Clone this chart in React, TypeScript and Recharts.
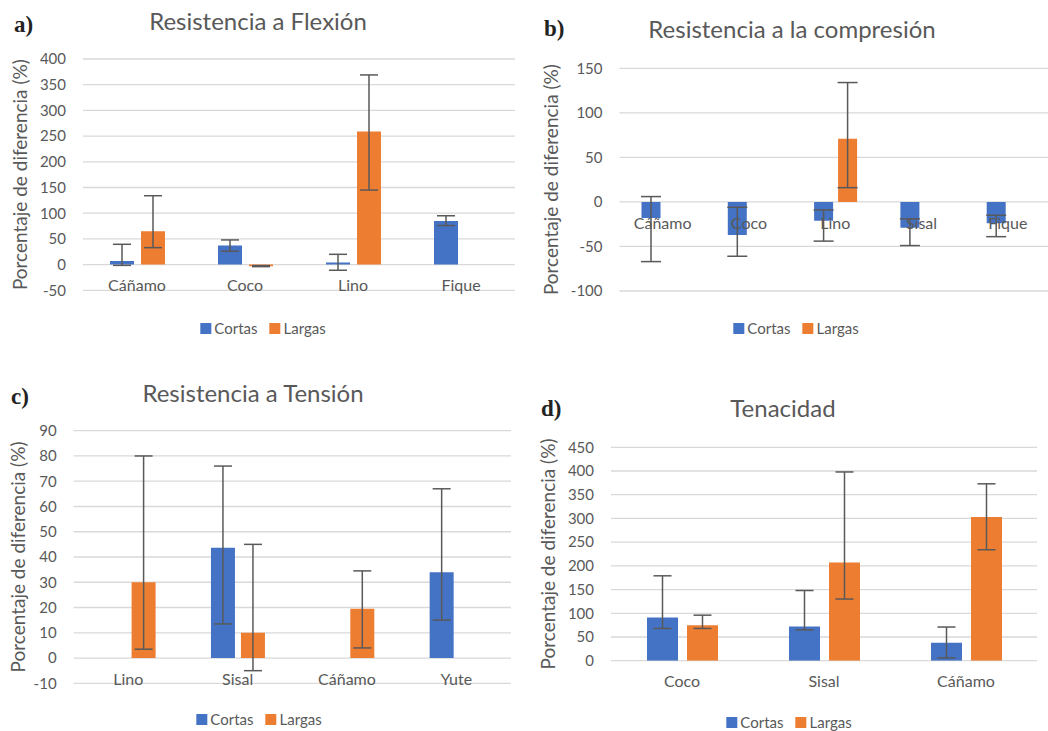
import React from 'react'
import { Bar, BarChart, CartesianGrid, ErrorBar, XAxis, YAxis } from 'recharts'

const BLUE = '#4472C4'
const ORANGE = '#ED7D31'
const GREY = '#595959'
const FONT = 'Lato, "Open Sans", sans-serif'
const Y_LABEL = 'Porcentaje de diferencia (%)'
const SERIES = ['Cortas', 'Largas']

type Num = number | null

// a) Resistencia a Flexión
const catsA = ['Cáñamo', 'Coco', 'Lino', 'Fique']
const cortasA: Num[] = [7, 37, 4, 85]
const cortasALow: Num[] = [-1.5, 26, -11, 76]
const cortasAHigh: Num[] = [39.5, 48, 20, 95]
const largasA: Num[] = [65, -3, 259, null]
const largasALow: Num[] = [33, -4, 145, null]
const largasAHigh: Num[] = [134, -2, 369, null]
const ticksA = [-50, 0, 50, 100, 150, 200, 250, 300, 350, 400]

// b) Resistencia a la compresión
const catsB = ['Cáñamo', 'Coco', 'Lino', 'Sisal', 'Fique']
const cortasB: Num[] = [-18, -37, -21, -29, -24]
const cortasBLow: Num[] = [-67, -61, -44, -49, -39]
const cortasBHigh: Num[] = [6, -6, -9, -19, -15]
const largasB: Num[] = [null, null, 71, null, null]
const largasBLow: Num[] = [null, null, 16, null, null]
const largasBHigh: Num[] = [null, null, 134, null, null]
const ticksB = [-100, -50, 0, 50, 100, 150]

// c) Resistencia a Tensión
const catsC = ['Lino', 'Sisal', 'Cáñamo', 'Yute']
const cortasC: Num[] = [null, 43.7, null, 34]
const cortasCLow: Num[] = [null, 13.5, null, 15]
const cortasCHigh: Num[] = [null, 76, null, 67]
const largasC: Num[] = [30, 10, 19.5, null]
const largasCLow: Num[] = [3.5, -5, 4, null]
const largasCHigh: Num[] = [80, 45, 34.5, null]
const ticksC = [-10, 0, 10, 20, 30, 40, 50, 60, 70, 80, 90]

// d) Tenacidad
const catsD = ['Coco', 'Sisal', 'Cáñamo']
const cortasD: Num[] = [91, 72, 38]
const cortasDLow: Num[] = [68, 65, 6]
const cortasDHigh: Num[] = [179, 148, 71]
const largasD: Num[] = [75, 207, 303]
const largasDLow: Num[] = [68, 130, 234]
const largasDHigh: Num[] = [96, 398, 373]
const ticksD = [0, 50, 100, 150, 200, 250, 300, 350, 400, 450]

const err = (v: Num, lo: Num, hi: Num) =>
  v == null || lo == null || hi == null ? undefined : [v - lo, hi - v]

const rows = (
  cats: string[],
  cortas: Num[], cortasLow: Num[], cortasHigh: Num[],
  largas: Num[], largasLow: Num[], largasHigh: Num[],
) =>
  cats.map((name, i) => ({
    name,
    cortas: cortas[i],
    cortasErr: err(cortas[i], cortasLow[i], cortasHigh[i]),
    largas: largas[i],
    largasErr: err(largas[i], largasLow[i], largasHigh[i]),
  }))

type Pt = { x: number; y: number }

type PanelProps = {
  letter: string
  title: string
  data: any[]
  ticks: number[]
  box: { x: number; y: number; w: number; h: number }
  plot: { left: number; top: number; right: number; bottom: number }
  barSize: number
  barGap: number
  capWidth: number
  labelX: number
  titleAt: Pt
  letterAt: Pt
  legendAt: Pt
}

const Legend = ({ at }: { at: Pt }) => (
  <div
    style={{
      position: 'absolute', left: at.x, top: at.y, transform: 'translate(-50%, -50%)',
      display: 'flex', alignItems: 'center', gap: 12, fontSize: 15, color: GREY, whiteSpace: 'nowrap',
    }}
  >
    {SERIES.map((s, i) => (
      <div key={s} style={{ display: 'flex', alignItems: 'center' }}>
        <span style={{ width: 11, height: 11, background: i === 0 ? BLUE : ORANGE, marginRight: 3 }} />
        {s}
      </div>
    ))}
  </div>
)

const Panel = ({
  letter, title, data, ticks, box, plot, barSize, barGap, capWidth, labelX, titleAt, letterAt, legendAt,
}: PanelProps) => {
  const xAxisH = 30
  const margin = {
    top: plot.top - box.y,
    left: 0,
    right: box.x + box.w - plot.right,
    bottom: box.y + box.h - plot.bottom - xAxisH,
  }
  const min = ticks[0]
  const max = ticks[ticks.length - 1]
  const plotH = plot.bottom - plot.top
  // Excel draws the category labels under the 0 line, not at the bottom
  const zeroY = margin.top + (max / (max - min)) * plotH

  return (
    <>
      <div style={{ position: 'absolute', left: box.x, top: box.y }}>
        <BarChart
          width={box.w}
          height={box.h}
          data={data}
          margin={margin}
          barSize={barSize}
          barGap={barGap}
        >
          <CartesianGrid vertical={false} stroke="#d9d9d9" strokeWidth={1.3} />
          <XAxis
            dataKey="name"
            height={xAxisH}
            axisLine={false}
            tickLine={false}
            interval={0}
            tick={(p: any) => (
              <text
                x={p.x}
                y={zeroY + 21}
                dy="0.355em"
                textAnchor="middle"
                fill={GREY}
                fontSize={16}
                fontFamily={FONT}
              >
                {p.payload.value}
              </text>
            )}
          />
          <YAxis
            width={plot.left - box.x}
            domain={[min, max]}
            ticks={ticks}
            allowDataOverflow
            interval={0}
            axisLine={false}
            tickLine={false}
            tickMargin={11}
            tick={{ fill: GREY, fontSize: 15, fontFamily: FONT }}
            label={{
              value: Y_LABEL,
              angle: -90,
              position: 'insideLeft',
              offset: labelX - box.x,
              style: { textAnchor: 'middle', fill: GREY, fontSize: 19, fontFamily: FONT },
            }}
          />
          <Bar dataKey="cortas" name="Cortas" fill={BLUE} isAnimationActive={false}>
            <ErrorBar dataKey="cortasErr" width={capWidth} stroke={GREY} strokeWidth={1.5} direction="y" />
          </Bar>
          <Bar dataKey="largas" name="Largas" fill={ORANGE} isAnimationActive={false}>
            <ErrorBar dataKey="largasErr" width={capWidth} stroke={GREY} strokeWidth={1.5} direction="y" />
          </Bar>
        </BarChart>
      </div>
      <div
        style={{
          position: 'absolute', left: titleAt.x, top: titleAt.y, transform: 'translate(-50%, -50%)',
          fontSize: 24, color: GREY, whiteSpace: 'nowrap',
        }}
      >
        {title}
      </div>
      <div
        style={{
          position: 'absolute', left: letterAt.x, top: letterAt.y, transform: 'translateY(-50%)',
          fontFamily: '"Liberation Serif", serif', fontWeight: 'bold', fontSize: 23, color: '#222',
        }}
      >
        {letter}
      </div>
      <Legend at={legendAt} />
    </>
  )
}

export default function App() {
  return (
    <div
      style={{
        position: 'fixed', left: 0, top: 0, width: 1048, height: 731, overflow: 'hidden',
        background: '#fff', fontFamily: FONT,
      }}
    >
      <Panel
        letter="a)"
        title="Resistencia a Flexión"
        data={rows(catsA, cortasA, cortasALow, cortasAHigh, largasA, largasALow, largasAHigh)}
        ticks={ticksA}
        box={{ x: 0, y: 0, w: 530, h: 345 }}
        plot={{ left: 83, top: 59, right: 515, bottom: 290.3 }}
        barSize={24}
        barGap={7}
        capWidth={9}
        labelX={20}
        titleAt={{ x: 258, y: 20 }}
        letterAt={{ x: 14, y: 25 }}
        legendAt={{ x: 263, y: 328 }}
      />
      <Panel
        letter="b)"
        title="Resistencia a la compresión"
        data={rows(catsB, cortasB, cortasBLow, cortasBHigh, largasB, largasBLow, largasBHigh)}
        ticks={ticksB}
        box={{ x: 530, y: 0, w: 530, h: 345 }}
        plot={{ left: 619.5, top: 68.3, right: 1051, bottom: 291 }}
        barSize={19}
        barGap={5}
        capWidth={10}
        labelX={551.7}
        titleAt={{ x: 792, y: 28 }}
        letterAt={{ x: 544, y: 29 }}
        legendAt={{ x: 796, y: 328 }}
      />
      <Panel
        letter="c)"
        title="Resistencia a Tensión"
        data={rows(catsC, cortasC, cortasCLow, cortasCHigh, largasC, largasCLow, largasCHigh)}
        ticks={ticksC}
        box={{ x: 0, y: 370, w: 530, h: 360 }}
        plot={{ left: 73.6, top: 430.7, right: 511, bottom: 683.3 }}
        barSize={24}
        barGap={6}
        capWidth={9}
        labelX={18.3}
        titleAt={{ x: 253, y: 392 }}
        letterAt={{ x: 11, y: 397 }}
        legendAt={{ x: 259, y: 719 }}
      />
      <Panel
        letter="d)"
        title="Tenacidad"
        data={rows(catsD, cortasD, cortasDLow, cortasDHigh, largasD, largasDLow, largasDHigh)}
        ticks={ticksD}
        box={{ x: 530, y: 380, w: 518, h: 351 }}
        plot={{ left: 611, top: 447.3, right: 1037, bottom: 660.7 }}
        barSize={31}
        barGap={9}
        capWidth={9}
        labelX={548}
        titleAt={{ x: 783, y: 407 }}
        letterAt={{ x: 541, y: 409 }}
        legendAt={{ x: 789, y: 722 }}
      />
    </div>
  )
}
